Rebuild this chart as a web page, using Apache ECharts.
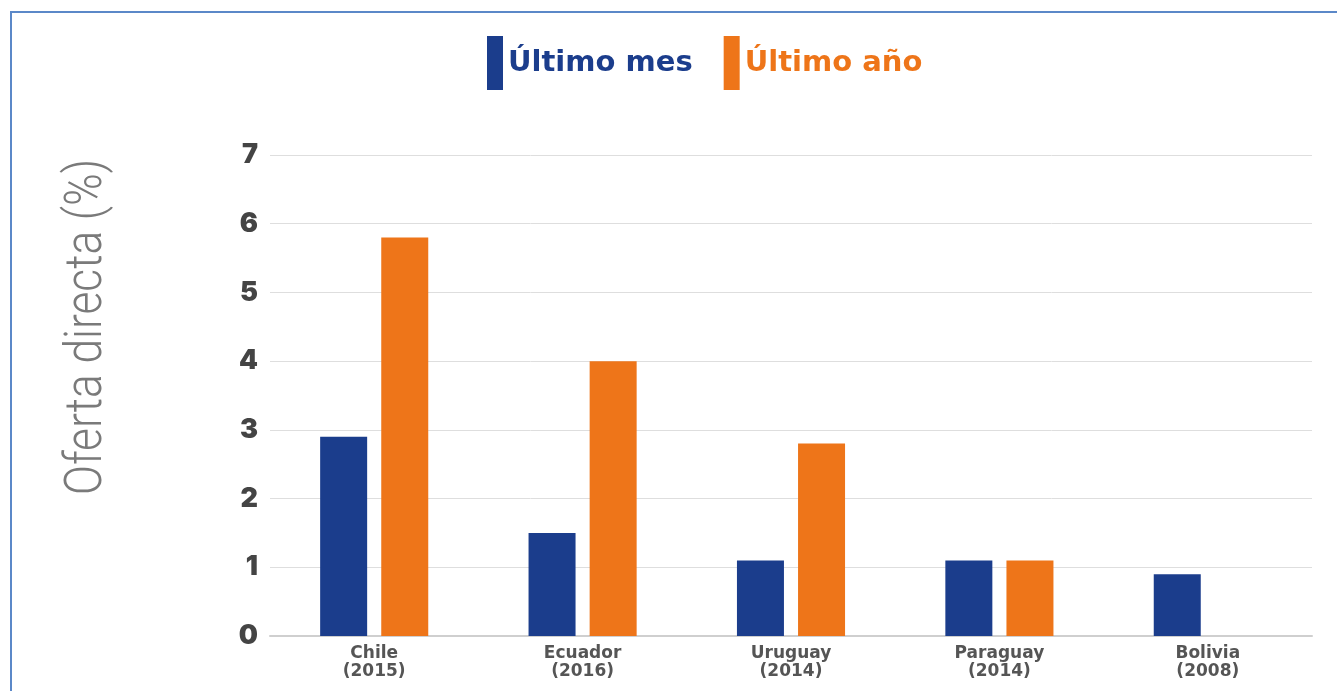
<!DOCTYPE html>
<html>
<head>
<meta charset="utf-8">
<script src="https://cdn.jsdelivr.net/npm/echarts@6/dist/echarts.min.js"></script>
<style>
  html, body { margin: 0; padding: 0; background: #fff; }
  #chart { width: 1337px; height: 691px; }
</style>
</head>
<body>
<div id="chart"></div>
<script>
// datos
var paises = ['Chile\n(2015)', 'Ecuador\n(2016)', 'Uruguay\n(2014)', 'Paraguay\n(2014)', 'Bolivia\n(2008)']
var ultimoMes = [2.9, 1.5, 1.1, 1.1, 0.9]
var ultimoAnio = [5.8, 4.0, 2.8, 1.1, null]
var ticksY = [0, 1, 2, 3, 4, 5, 6, 7]
var tituloY = 'Oferta directa (%)'

var azul = '#1b3d8c'
var naranja = '#ee7519'

var chart = echarts.init(document.getElementById('chart'))
chart.setOption({
  animation: false,
  graphic: [
    {
      type: 'polyline',
      shape: { points: [[11, 691], [11, 12], [1337, 12]] },
      style: { stroke: '#5b88c8', lineWidth: 2, fill: null }
    },
    {
      // titulo del eje Y, fuente condensada
      type: 'text',
      x: 88,
      y: 327,
      rotation: Math.PI / 2,
      scaleX: 0.85,
      style: {
        text: tituloY,
        fill: '#7a7a7a',
        font: '300 52px Roboto',
        align: 'center',
        verticalAlign: 'middle'
      }
    }
  ],
  legend: {
    left: 487,
    top: 36,
    padding: 0,
    itemWidth: 16,
    itemHeight: 54,
    itemGap: 31,
    icon: 'rect',
    data: [
      { name: 'Último mes', textStyle: { color: azul } },
      { name: 'Último año', textStyle: { color: naranja } }
    ],
    textStyle: {
      fontFamily: 'DejaVu Sans',
      fontWeight: 'bold',
      fontSize: 29
    }
  },
  grid: {
    left: 270,
    right: 25,
    top: 155,
    bottom: 55
  },
  xAxis: {
    type: 'category',
    data: paises,
    axisTick: { show: false },
    axisLine: { lineStyle: { color: '#cfcfcf', width: 2 } },
    axisLabel: {
      color: '#555',
      fontFamily: 'DejaVu Sans',
      fontWeight: 'bold',
      fontSize: 17,
      lineHeight: 18,
      margin: 9
    }
  },
  yAxis: {
    type: 'value',
    min: ticksY[0],
    max: ticksY[ticksY.length - 1],
    interval: 1,
    axisLabel: {
      color: '#444',
      fontFamily: 'Inter',
      fontWeight: 900,
      fontSize: 27,
      margin: 12
    },
    splitLine: { lineStyle: { color: '#dedede', width: 1 } }
  },
  series: [
    {
      name: 'Último mes',
      type: 'bar',
      data: ultimoMes,
      barWidth: 47,
      barGap: '30%',
      itemStyle: { color: azul }
    },
    {
      name: 'Último año',
      type: 'bar',
      data: ultimoAnio,
      barWidth: 47,
      itemStyle: { color: naranja }
    }
  ]
})
window.addEventListener('resize', function () {
  chart.resize()
})
</script>
</body>
</html>
